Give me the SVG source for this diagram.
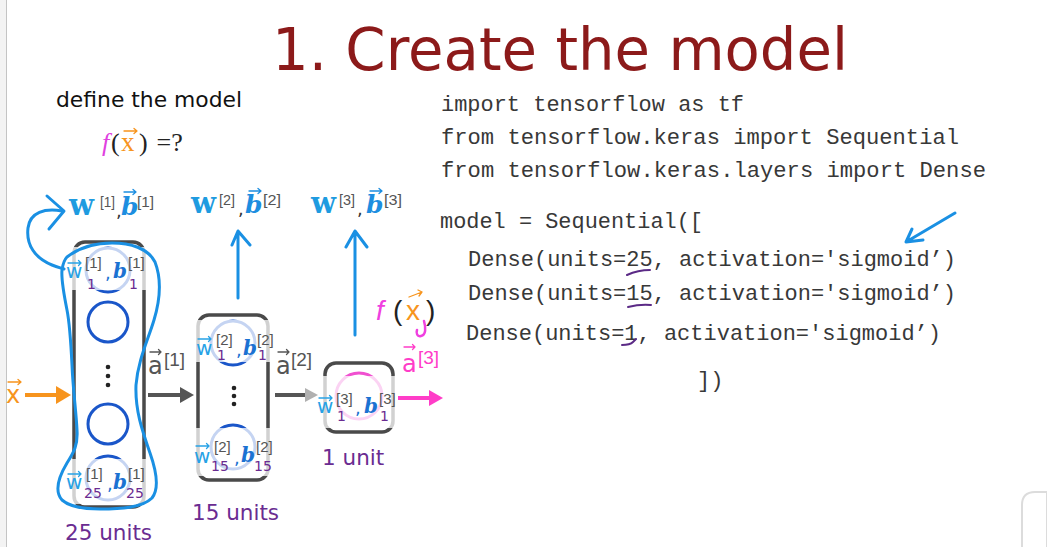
<svg xmlns="http://www.w3.org/2000/svg" width="1047" height="547" viewBox="0 0 1047 547">
<defs>
<style>
.title{font-family:"DejaVu Sans",Verdana,sans-serif;font-size:58px;fill:#8c1a1a}
.sans{font-family:"DejaVu Sans",Verdana,sans-serif}
.code{font-family:"Liberation Mono","Courier New",monospace;font-size:22px;fill:#383838}
.W{font-family:"DejaVu Serif",Cambria,serif;font-weight:bold;font-size:29px;fill:#1e9be0}
.B{font-family:"DejaVu Serif",Cambria,serif;font-weight:bold;font-style:italic;font-size:25px;fill:#1d8ee0}
.br{font-family:"Liberation Sans",Arial,sans-serif;font-size:15px;fill:#555}
.wi{font-family:"DejaVu Sans",Verdana,sans-serif;font-size:20px;fill:#27a2e6}
.bi{font-family:"DejaVu Serif",Cambria,serif;font-weight:bold;font-style:italic;font-size:20px;fill:#1b72d2}
.sub{font-family:"DejaVu Sans",Verdana,sans-serif;font-size:14px;fill:#6a2c91}
.cm{font-family:"DejaVu Sans",Verdana,sans-serif;font-size:18px;fill:#1b72d2}
.units{font-family:"DejaVu Sans",Verdana,sans-serif;font-size:21.5px;fill:#6a2c91}
.box{fill:none;stroke:#4a4a4a;stroke-width:3.5}
.neu{fill:none;stroke:#1a56c9;stroke-width:3}
.ov{fill:#ffffff;fill-opacity:0.75}
.hand{fill:none;stroke:#1a90e3;stroke-width:3;stroke-linecap:round;stroke-linejoin:round}
.vec{fill:none;stroke-width:1.3;stroke-linecap:round;stroke-linejoin:round}
.act{font-family:"DejaVu Sans",Verdana,sans-serif;font-size:24px}
.actb{font-family:"Liberation Sans",Arial,sans-serif;font-size:19px}
.ul{fill:none;stroke:#5b2a86;stroke-width:2;stroke-linecap:round}
</style>
</defs>
<rect width="1047" height="547" fill="#ffffff"/>
<rect x="0" y="0" width="6" height="547" fill="#f3f3f3"/>
<line x1="6.5" y1="0" x2="6.5" y2="547" stroke="#c4c4c4" stroke-width="1"/>
<path d="M1022,547 V505 Q1022,492 1035,492 H1047 V547" fill="#ffffff" stroke="#dcdcdc" stroke-width="2"/>

<text class="title" x="272" y="70" textLength="576" lengthAdjust="spacingAndGlyphs">1. Create the model</text>

<g id="define">
<text class="sans" x="56" y="107" font-size="21.5" fill="#111" textLength="186" lengthAdjust="spacingAndGlyphs">define the model</text>
<text font-family="Liberation Serif,serif" font-size="26" y="151"><tspan x="102" fill="#e040e0" font-style="italic">f</tspan><tspan x="111" fill="#222">(</tspan><tspan x="121" fill="#f7941d" font-size="27">x</tspan><tspan x="139" fill="#222">)</tspan><tspan x="150" fill="#222"> =?</tspan></text>
<path class="vec" stroke="#f7941d" d="M124,131 H137 M134,128.5 L137,131 L134,133.5"/>
</g>

<g id="code">
<text class="code" x="441" y="111" textLength="303" lengthAdjust="spacingAndGlyphs">import tensorflow as tf</text>
<text class="code" x="441" y="144" textLength="518" lengthAdjust="spacingAndGlyphs">from tensorflow.keras import Sequential</text>
<text class="code" x="441" y="177" textLength="545" lengthAdjust="spacingAndGlyphs">from tensorflow.keras.layers import Dense</text>
<text class="code" x="440" y="228" textLength="263" lengthAdjust="spacingAndGlyphs">model = Sequential([</text>
<text class="code" x="468" y="266" textLength="488" lengthAdjust="spacingAndGlyphs">Dense(units=25, activation='sigmoid’)</text>
<text class="code" x="468" y="300" textLength="488" lengthAdjust="spacingAndGlyphs">Dense(units=15, activation='sigmoid’)</text>
<text class="code" x="466" y="340" textLength="475" lengthAdjust="spacingAndGlyphs">Dense(units=1, activation='sigmoid’)</text>
<text class="code" x="697" y="387">])</text>
<path class="ul" d="M627,275 Q638,270 650,270"/>
<path class="ul" d="M628,307 Q640,304 651,305"/>
<path class="ul" d="M622,345 Q630,345 633,342 L636,339"/>
<path class="hand" stroke-width="2.5" d="M955,213 L906,242 M912,229 L906,242 L923,240"/>
</g>

<g id="layer1">
<rect class="box" x="74" y="242" width="70" height="265" rx="11"/>
<circle class="neu" cx="108" cy="270" r="22"/>
<circle class="neu" cx="108" cy="322" r="20"/>
<circle cx="108" cy="367" r="2.3" fill="#222"/>
<circle cx="108" cy="376" r="2.3" fill="#222"/>
<circle cx="108" cy="385" r="2.3" fill="#222"/>
<circle class="neu" cx="108" cy="424" r="20"/>
<circle class="neu" cx="108" cy="478" r="22"/>
<rect class="ov" x="70" y="247" width="78" height="43"/>
<rect class="ov" x="70" y="459" width="78" height="45"/>
<text class="wi" x="66" y="278">w</text>
<path class="vec" stroke="#27a2e6" d="M68,263 H81 M78.5,260.5 L81,263 L78.5,265.5"/>
<text class="br" x="85" y="268">[1]</text>
<text class="sub" x="87" y="289">1</text>
<text class="cm" x="105" y="279">,</text>
<text class="bi" x="113" y="278">b</text>
<text class="br" x="128" y="268">[1]</text>
<text class="sub" x="129" y="289">1</text>
<text class="wi" x="66" y="489">w</text>
<path class="vec" stroke="#27a2e6" d="M68,474 H81 M78.5,471.5 L81,474 L78.5,476.5"/>
<text class="br" x="86" y="479">[1]</text>
<text class="sub" x="84" y="498">25</text>
<text class="cm" x="107" y="490">,</text>
<text class="bi" x="113" y="489">b</text>
<text class="br" x="128" y="479">[1]</text>
<text class="sub" x="126" y="498">25</text>
<text class="units" x="65" y="540">25 units</text>
</g>

<g id="layer2">
<rect class="box" x="198" y="315" width="70" height="165" rx="11"/>
<circle class="neu" cx="233" cy="343" r="22"/>
<circle cx="234" cy="388" r="2.3" fill="#222"/>
<circle cx="234" cy="396" r="2.3" fill="#222"/>
<circle cx="234" cy="404" r="2.3" fill="#222"/>
<circle class="neu" cx="233" cy="447" r="22"/>
<rect class="ov" x="194" y="320" width="78" height="42"/>
<rect class="ov" x="194" y="428" width="78" height="48"/>
<text class="wi" x="196" y="355">w</text>
<path class="vec" stroke="#27a2e6" d="M198,339 H211 M208.5,336.5 L211,339 L208.5,341.5"/>
<text class="br" x="216" y="345">[2]</text>
<text class="sub" x="217" y="360">1</text>
<text class="cm" x="236" y="356">,</text>
<text class="bi" x="243" y="355">b</text>
<text class="br" x="257" y="345">[2]</text>
<text class="sub" x="258" y="360">1</text>
<text class="wi" x="194" y="463">w</text>
<path class="vec" stroke="#27a2e6" d="M196,446 H209 M206.5,443.5 L209,446 L206.5,448.5"/>
<text class="br" x="214" y="452">[2]</text>
<text class="sub" x="211" y="471">15</text>
<text class="cm" x="234" y="464">,</text>
<text class="bi" x="241" y="462">b</text>
<text class="br" x="256" y="452">[2]</text>
<text class="sub" x="254" y="471">15</text>
<text class="units" x="192" y="520">15 units</text>
</g>

<g id="layer3">
<rect class="box" x="325" y="363" width="68" height="69" rx="11"/>
<circle cx="359" cy="396" r="23" fill="none" stroke="#f050d0" stroke-width="3"/>
<rect class="ov" x="321" y="376" width="76" height="52"/>
<text class="wi" x="317" y="413">w</text>
<path class="vec" stroke="#27a2e6" d="M319,398 H332 M329.5,395.5 L332,398 L329.5,400.5"/>
<text class="br" x="336" y="404">[3]</text>
<text class="sub" x="337" y="421">1</text>
<text class="cm" x="355" y="414">,</text>
<text class="bi" x="364" y="413">b</text>
<text class="br" x="379" y="404">[3]</text>
<text class="sub" x="380" y="421">1</text>
<text class="units" x="322" y="465">1 unit</text>
</g>

<g id="params">
<text class="W" x="69" y="215">w</text>
<text class="br" x="100" y="207" font-size="16" textLength="15" lengthAdjust="spacingAndGlyphs">[1]</text>
<text class="sans" x="116" y="217" font-size="18" fill="#333">,</text>
<text class="B" x="121" y="215">b</text>
<path class="vec" stroke="#1d8ee0" stroke-width="1.6" d="M124,192 H136 M133,189.5 L136,192 L133,194.5"/>
<text class="br" x="137" y="207" font-size="16" textLength="17" lengthAdjust="spacingAndGlyphs">[1]</text>
<text class="W" x="191" y="213">w</text>
<text class="br" x="219" y="205" font-size="16" textLength="16" lengthAdjust="spacingAndGlyphs">[2]</text>
<text class="sans" x="238" y="215" font-size="18" fill="#333">,</text>
<text class="B" x="245" y="213">b</text>
<path class="vec" stroke="#1d8ee0" stroke-width="1.6" d="M249,191 H261 M258,188.5 L261,191 L258,193.5"/>
<text class="br" x="263" y="205" font-size="16" textLength="18" lengthAdjust="spacingAndGlyphs">[2]</text>
<text class="W" x="311" y="213">w</text>
<text class="br" x="339" y="205" font-size="16" textLength="16" lengthAdjust="spacingAndGlyphs">[3]</text>
<text class="sans" x="357" y="215" font-size="18" fill="#333">,</text>
<text class="B" x="366" y="213">b</text>
<path class="vec" stroke="#1d8ee0" stroke-width="1.6" d="M370,191 H382 M379,188.5 L382,191 L379,193.5"/>
<text class="br" x="384" y="205" font-size="16" textLength="18" lengthAdjust="spacingAndGlyphs">[3]</text>
</g>

<g id="connectors">
<line x1="25" y1="395" x2="58" y2="395" stroke="#f7941d" stroke-width="4"/>
<polygon points="56,386 71,395 56,404" fill="#f7941d"/>
<text class="act" x="6" y="403" fill="#f7941d">x</text>
<path class="vec" stroke="#f7941d" stroke-width="1.6" d="M8,382 H21 M18,379.5 L21,382 L18,384.5"/>
<line x1="148" y1="395" x2="182" y2="395" stroke="#555" stroke-width="4"/>
<polygon points="180,387 194,395 180,403" fill="#555"/>
<text class="act" x="148" y="374" fill="#555">a</text>
<path class="vec" stroke="#555" d="M150,352 H161 M158.5,349.5 L161,352 L158.5,354.5"/>
<text class="actb" x="164" y="366" fill="#555">[1]</text>
<line x1="275" y1="395" x2="306" y2="395" stroke="#555" stroke-width="4"/>
<polygon points="305,388 318,395 305,402" fill="#b0b0b0"/>
<text class="act" x="276" y="374" fill="#555">a</text>
<path class="vec" stroke="#555" d="M278,352 H289 M286.5,349.5 L289,352 L286.5,354.5"/>
<text class="actb" x="291" y="366" fill="#555">[2]</text>
<line x1="398" y1="398" x2="431" y2="398" stroke="#ff3dc8" stroke-width="4"/>
<polygon points="429,390 443,398 429,406" fill="#ff3dc8"/>
<text class="act" x="402" y="372" fill="#ff3dc8">a</text>
<path class="vec" stroke="#ff3dc8" d="M404,347 H415 M412.5,344.5 L415,347 L412.5,349.5"/>
<text class="actb" x="418" y="364" fill="#ff3dc8">[3]</text>
<path class="hand" stroke-width="2.5" d="M238,298 V231 M232,245 L238,231 L250,245"/>
<path class="hand" stroke-width="2.5" d="M355,335 V231 M346,247 L355,231 L367,247"/>
</g>

<g id="annotations">
<path class="hand" d="M47,196 L64,211 L49,229"/>
<path class="hand" stroke-width="2.5" d="M62,211 C45,208 30,212 28,228 C26,245 35,258 52,265 C57,267 61,268 64,269"/>
<path class="hand" stroke-width="2.5" d="M67,257 C80,247 95,243 112,243 C130,243 148,248 155,262 C162,280 160,300 154,320 C148,340 138,360 136,385 C135,410 142,430 150,453 C156,470 160,488 152,498 C142,508 120,509 100,509 C82,509 70,507 62,500 C55,492 58,478 67,463 C74,452 78,445 77,430 C76,410 73,390 72,365 C71,345 70,325 67,310 C64,295 61,280 62,270 C63,263 65,259 67,257"/>
<text font-family="Liberation Sans,Arial,sans-serif" font-size="28" y="320"><tspan x="376" fill="#f040e0" font-style="italic">f</tspan><tspan x="393" fill="#222">(</tspan><tspan x="406" fill="#f7941d">x</tspan><tspan x="426" fill="#222">)</tspan></text>
<path class="vec" stroke="#f7941d" stroke-width="2" d="M409,297 L422,292 M418,290 L422,292 L419,296"/>
<path fill="none" stroke="#f040e0" stroke-width="2.5" stroke-linecap="round" d="M424,321 C426,328 426,335 421,336 C417,337 416,333 417,330"/>
</g>
</svg>
